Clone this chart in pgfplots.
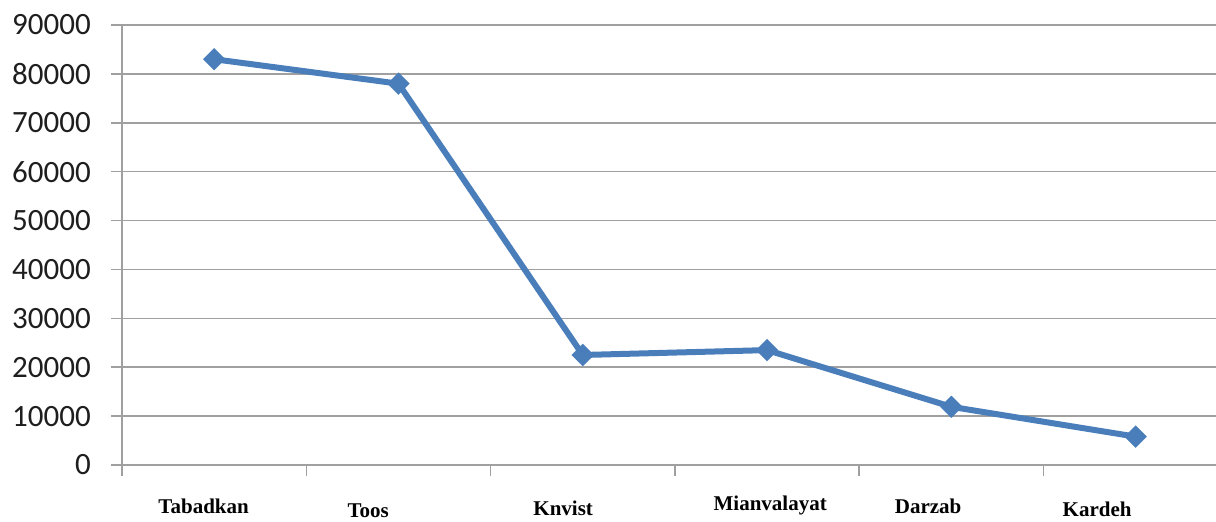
\documentclass[border=0pt]{standalone}
\usepackage{pgfplots}
\pgfplotsset{compat=1.18}
\usepackage{fontspec}
\setmainfont{Carlito}
\newfontfamily\labelfont{Liberation Serif}
\definecolor{serieblue}{RGB}{74,126,187}
\definecolor{gridgray}{RGB}{160,160,160}
\definecolor{ticktext}{RGB}{30,30,30}

\pgfplotstableread{
x  y       name
0  83000   Tabadkan
1  78000   Toos
2  22500   Knvist
3  23500   Mianvalayat
4  11900   Darzab
5  5800    Kardeh
}\sitedata

\begin{document}
\begin{tikzpicture}
\begin{axis}[
  name=ax,
  scale only axis,
  width=1094pt, height=440pt,
  xmin=-0.5, xmax=5.436,
  ymin=0, ymax=90000,
  ytick={0,10000,...,90000},
  xtick={-0.5,0.5,1.5,2.5,3.5,4.5},
  xticklabels={},
  axis x line*=bottom,
  axis y line*=left,
  x axis line style={-, draw=gridgray, line width=1.6pt},
  y axis line style={-, draw=gridgray, line width=1.6pt},
  ymajorgrids,
  major grid style={draw=gridgray, line width=1.6pt},
  tick align=outside,
  major tick length=11pt,
  every tick/.style={draw=gridgray, line width=1.6pt},
  xtick pos=bottom, ytick pos=left,
  scaled y ticks=false,
  /pgf/number format/assume math mode=true,
  yticklabel={\pgfmathprintnumber[fixed, 1000 sep={}]{\tick}},
  yticklabel style={font=\fontsize{31}{34}\selectfont, text=ticktext, inner sep=0pt, xshift=-20pt},
  clip=false,
]
\addplot[serieblue, line width=6pt, line join=round,
  mark=square*, mark size=7.8pt,
  mark options={fill=serieblue, draw=serieblue, line width=0.1pt, rotate=45}]
  table[x=x, y=y] {\sitedata};

% category names, each set at its own height beneath the axis
\begin{scope}[every node/.style={font=\labelfont\bfseries\fontsize{21}{24}\selectfont, text=black, inner sep=1pt}]
  \node at (axis cs:-0.057,-8400) {Tabadkan};
  \node at (axis cs:0.836,-9400) {Toos};
  \node at (axis cs:1.894,-8900) {Knvist};
  \node at (axis cs:3.017,-8200) {Mianvalayat};
  \node at (axis cs:3.874,-8400) {Darzab};
  \node at (axis cs:4.791,-9000) {Kardeh};
\end{scope}
\end{axis}
\pgfresetboundingbox
\path ([shift={(-122pt,-57pt)}]ax.south west) rectangle ([shift={(0pt,25pt)}]ax.north east);
\end{tikzpicture}
\end{document}
